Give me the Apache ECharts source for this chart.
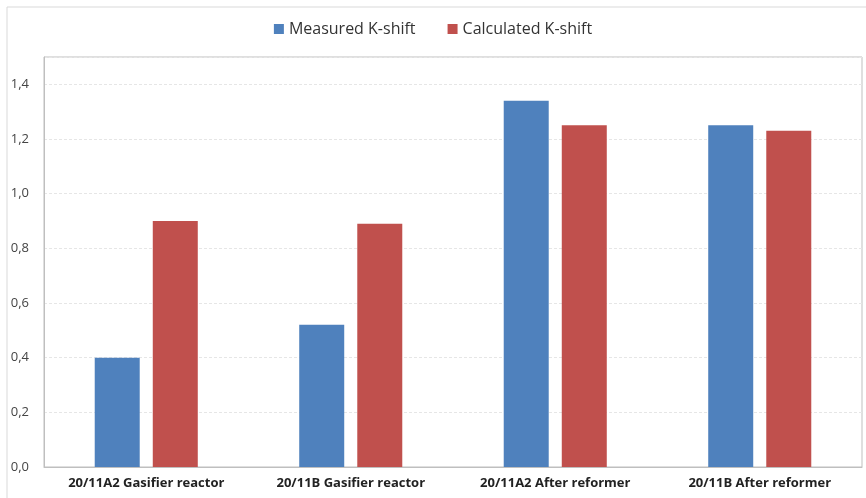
<!DOCTYPE html>
<html>
<head>
<meta charset="utf-8">
<script src="https://cdn.jsdelivr.net/npm/echarts@6/dist/echarts.min.js"></script>
<style>
html,body{margin:0;padding:0;background:#fff;}
#chart{width:866px;height:498px;}
</style>
</head>
<body>
<div id="chart"></div>
<script>
// data
var categories = ['20/11A2 Gasifier reactor', '20/11B Gasifier reactor', '20/11A2 After reformer', '20/11B After reformer'];
var measured = [0.40, 0.52, 1.34, 1.25];
var calculated = [0.90, 0.89, 1.25, 1.23];
var seriesNames = ['Measured K-shift', 'Calculated K-shift'];

var chartDom = document.getElementById('chart');
var myChart = echarts.init(chartDom);
var option;
var fontFam = '"Open Sans", "Liberation Sans", sans-serif';

option = {
    animation: false,
    graphic: [{
        type: 'rect',
        shape: { x: 7, y: 7, width: 870, height: 500 },
        style: { fill: 'none', stroke: '#d9d9d9', lineWidth: 1 },
        silent: true
    }],
    legend: {
        top: 16,
        left: 'center',
        itemWidth: 10,
        itemHeight: 10,
        itemGap: 32,
        icon: 'rect',
        textStyle: { fontFamily: fontFam, fontSize: 16, color: '#333' },
        data: seriesNames
    },
    grid: {
        left: 44, right: 4, top: 57, bottom: 31,
        show: true,
        borderColor: '#bfbfbf',
        borderWidth: 1,
        containLabel: false
    },
    xAxis: {
        type: 'category',
        data: categories,
        axisTick: { show: false },
        axisLine: { lineStyle: { color: '#bfbfbf' } },
        axisLabel: { fontFamily: fontFam, fontSize: 13, fontWeight: 'bold', color: '#222', margin: 10 }
    },
    yAxis: {
        type: 'value',
        min: 0,
        max: 1.5,
        interval: 0.2,
        axisLine: { show: true, lineStyle: { color: '#bfbfbf' } },
        axisTick: { show: false },
        splitLine: { lineStyle: { color: '#e6e6e6', type: [3, 2] } },
        axisLabel: {
            fontFamily: fontFam, fontSize: 13, color: '#444', margin: 15,
            showMaxLabel: false,
            formatter: function (v) { return v.toFixed(1).replace('.', ','); }
        }
    },
    series: [
        {
            name: seriesNames[0], type: 'bar', data: measured,
            barWidth: 45, barGap: '29%',
            itemStyle: { color: '#4f81bd' }
        },
        {
            name: seriesNames[1], type: 'bar', data: calculated,
            barWidth: 45, barGap: '29%',
            itemStyle: { color: '#c0504d' }
        }
    ]
};
option && myChart.setOption(option);
</script>
</body>
</html>
